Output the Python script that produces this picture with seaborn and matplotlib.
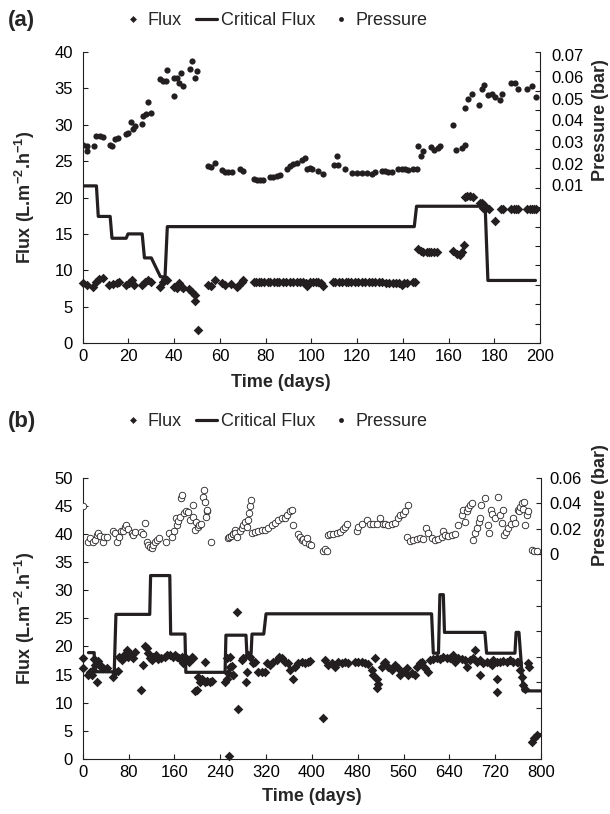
import matplotlib
matplotlib.use("Agg")
import matplotlib.pyplot as plt
from matplotlib.lines import Line2D
import seaborn as sns
import numpy as np
import pandas as pd

# ---- panel (a): 200 days ----
flux_a_day = [0, 1.8, 4.7, 5.8, 7.3, 8.7, 11.7, 13.1, 14.9, 16.0, 18.9, 20.4, 21.4, 22.4, 25.8, 27.2,
              28.7, 29.7, 33.8, 34.9, 36.0, 36.7, 40.1, 41.1, 42.3, 43.3, 44.0, 46.6, 47.7, 49.1, 49.3,
              50.6, 55.0, 56.1, 57.9, 60.8, 62.2, 64.7, 67.3, 68.5, 69.5, 70.3,
              74.9, 76.0, 77.0, 78.0, 79.5, 81.0, 82.0, 83.5, 85.0, 86.0, 87.5, 89.0, 90.5, 92.0, 93.5,
              95.0, 96.5, 97.5, 98.2, 99.5, 100.5, 102.0, 103.0, 104.2, 105.0,
              109.4, 110.5, 112.0, 113.5, 115.0, 116.0, 117.5, 119.0, 120.5, 122.0, 123.5, 125.0, 126.5,
              128.0, 129.5, 131.0, 132.5, 134.0, 135.5, 137.0, 138.5, 139.5, 140.5, 142.0, 144.5, 145.5,
              146.8, 148.0, 149.0, 150.5, 151.5, 152.5, 153.5, 155.0, 162.0, 163.5, 165.0, 166.0, 166.9,
              167.2, 168.2, 169.2, 170.5, 173.8, 174.6, 175.0, 175.5, 176.3, 177.5, 180.4, 183.0, 184.0,
              187.5, 188.5, 189.5, 190.5, 194.5, 195.5, 196.5, 197.5, 198.3]
flux_a = [8.2, 8.0, 7.7, 8.4, 8.8, 9.0, 8.0, 8.1, 8.3, 8.4, 8.0, 8.2, 8.7, 8.0, 8.0, 8.4,
          8.6, 8.4, 7.7, 8.4, 8.8, 8.7, 7.7, 7.5, 8.2, 7.7, 7.5, 7.4, 7.0, 6.6, 5.8,
          1.8, 8.0, 7.8, 8.6, 8.2, 8.0, 8.1, 7.7, 8.0, 8.4, 8.6,
          8.4, 8.4, 8.4, 8.4, 8.4, 8.4, 8.4, 8.4, 8.4, 8.4, 8.4, 8.4, 8.4, 8.4, 8.4,
          8.4, 8.4, 8.2, 7.9, 8.4, 8.4, 8.4, 8.4, 8.2, 7.8,
          8.4, 8.4, 8.4, 8.4, 8.4, 8.4, 8.4, 8.4, 8.4, 8.4, 8.4, 8.4, 8.4,
          8.4, 8.4, 8.4, 8.3, 8.3, 8.3, 8.3, 8.2, 8.0, 8.2, 8.3, 8.4, 8.4,
          12.9, 12.7, 12.5, 12.5, 12.5, 12.5, 12.5, 12.5, 12.6, 12.2, 12.1, 12.5, 13.5,
          20.1, 20.2, 20.2, 20.1, 19.3, 19.2, 18.6, 19.0, 18.5, 18.4, 16.8, 18.4, 18.4,
          18.4, 18.4, 18.4, 18.4, 18.4, 18.4, 18.4, 18.4, 18.4]

crit_a_day = [0, 6, 6.8, 12, 12.8, 19, 19.8, 26, 27, 30, 34, 36, 37, 145, 146, 176, 177.2, 198]
crit_a = [21.6, 21.6, 17.4, 17.4, 14.4, 14.4, 15.0, 15.0, 11.7, 11.7, 9.1, 9.1, 16.0, 16.0,
          18.8, 18.8, 8.6, 8.6]

pres_a_day = [0, 1.7, 2.0, 4.9, 5.8, 7.6, 8.7, 11.9, 13.0, 14.1, 15.6, 18.8, 20.0, 21.0, 21.9, 22.9,
              25.8, 26.5, 27.5, 28.7, 29.7, 33.8, 35.3, 36.3, 37.0, 40.0, 40.1, 41.4, 42.1, 42.8, 44.0,
              46.9, 47.9, 49.0, 50.0,
              55.0, 56.1, 57.9, 60.8, 62.2, 63.7, 65.1, 68.8, 70.3, 74.9, 76.1, 77.5, 79.0, 81.9, 83.4,
              84.8, 86.3, 89.2, 90.7, 92.1, 93.6, 95.7, 97.2, 97.9, 99.4, 100.1, 103.0, 105.2, 109.9,
              111.0, 111.8, 114.7, 117.6, 119.8, 122.0, 124.2, 126.4, 127.8, 130.7, 132.2, 133.7, 135.1,
              138.0, 139.5, 140.9, 142.4, 144.6, 146.0,
              146.8, 147.9, 148.9, 152.3, 153.7, 155.2, 156.2, 162.0, 163.1, 166.0, 167.2, 167.2, 168.4,
              170.2, 173.4, 174.6, 175.3, 177.2, 178.9, 180.4, 182.6, 183.3, 187.4, 189.2, 190.3, 194.3,
              196.5, 198.3]
pres_a = [0.0284, 0.0281, 0.0257, 0.0281, 0.0325, 0.0325, 0.0321, 0.0284, 0.0281, 0.0314, 0.0318,
          0.0338, 0.0341, 0.0392, 0.0358, 0.0371, 0.0382, 0.0418, 0.0429, 0.0482, 0.0432, 0.0590,
          0.0583, 0.0583, 0.0633, 0.0512, 0.0593, 0.0597, 0.0573, 0.0617, 0.0556, 0.0637, 0.0674,
          0.0597, 0.0627,
          0.0187, 0.0183, 0.0204, 0.0170, 0.0163, 0.0163, 0.0163, 0.0173, 0.0167, 0.0130, 0.0126,
          0.0126, 0.0123, 0.0136, 0.0140, 0.0141, 0.0147, 0.0177, 0.0187, 0.0197, 0.0204, 0.0217,
          0.0227, 0.0173, 0.0180, 0.0177, 0.0167, 0.0153, 0.0194, 0.0234, 0.0194, 0.0173, 0.0158,
          0.0157, 0.0157, 0.0157, 0.0153, 0.0160, 0.0167, 0.0167, 0.0163, 0.0163, 0.0173, 0.0173,
          0.0173, 0.0170, 0.0173, 0.0173,
          0.0281, 0.0237, 0.0257, 0.0277, 0.0261, 0.0271, 0.0281, 0.0378, 0.0264, 0.0274, 0.0284,
          0.0456, 0.0499, 0.0519, 0.0472, 0.0546, 0.0563, 0.0516, 0.0523, 0.0509, 0.0492, 0.0523,
          0.0573, 0.0573, 0.0543, 0.0543, 0.0556, 0.0509]
pres_a_labels = [0.01, 0.02, 0.03, 0.04, 0.05, 0.06, 0.07]

# ---- panel (b): 800 days ----
flux_b_day = [0, 0, 9.8, 12.7, 15.6, 18.6, 21.5, 24.4, 27.3, 30.2, 33.1, 36.0, 41.8, 24.4, 20, 26,
              52.3, 56.4, 62.1, 64.0, 68.1, 72.1, 76.8, 79.7, 83.7, 87.2, 91.3, 101.2, 104.7,
              108.7, 111.6, 114.6, 117.5, 120.4, 123.3, 128.0, 132.0, 136.0,
              143.7, 147.7, 152.4, 157.0, 161.1, 164.0, 168.7, 172.8, 175.7, 180.3, 186.1, 190.2, 193.1,
              196.0, 198.9, 201.8, 204.7, 207.7, 213.5, 216.4, 222.2, 225.1, 213.5,
              248.4, 251.3, 254.2, 257.1, 261.8, 251.3, 255.9, 257, 260, 262.9, 269.9, 271.6,
              277.5, 280.4, 285, 286.2, 289.1, 292, 296.7, 300.7, 306.6, 312.4, 318.2,
              321.1, 326.9, 332.7, 338.6, 343.2, 347.3, 353.1, 358.9, 361.8, 366.5, 370.6, 376.4, 382.2,
              388, 393.8, 396.7, 420,
              422.9, 428.7, 434.5, 440.4, 446.2, 452, 457.8, 463.6,
              475.3, 481.1, 486.9, 492.7, 498.5, 504.4, 510.2, 507.3, 513.1, 516, 513.1, 521.8, 525.9,
              527.7, 533.5, 539.3, 545.2, 551, 553.9, 559.7, 565.5, 568.4, 574.2, 580.1, 583, 588.8,
              592.9, 597.5, 603.3, 606.2,
              612, 617.9, 623.7, 629.5, 635.3, 641.2, 647, 649.9, 655.7, 661.5, 667.3, 670.2, 676.1,
              681.9, 684.8, 687.7, 693.5, 693.5, 699.3, 705.1, 711, 713.9, 716.8, 722.6, 722.6, 722.6,
              728.4, 734.2, 740.1, 745.9, 751.7, 757.5, 760.4, 763.3, 766.2, 769.2, 772.1, 776.7, 779,
              783.7, 788.3, 792.4]
flux_b = [18.0, 16.2, 14.9, 15.5, 15.0, 15.8, 16.7, 17.3, 17.0, 16.6, 16.4, 16.1, 16.1, 13.7, 17.8, 17.5,
          14.6, 15.5, 15.6, 18.2, 17.6, 18.5, 19.4, 18.2, 18.5, 17.9, 19.1, 12.3, 16.7,
          20.0, 19.7, 18.8, 17.9, 17.6, 18.2, 18.5, 17.8, 17.9,
          18.2, 18.5, 18.4, 18.2, 18.5, 18.2, 18.0, 18.2, 17.0, 17.9, 17.3, 18.2, 18.0,
          12.1, 12.3, 14.6, 13.7, 14.2, 13.7, 13.9, 13.7, 13.9, 17.2,
          13.7, 14.2, 15.2, 16.4, 14.9, 17.9, 0.6, 18.2, 16.6, 14.9, 26.1, 8.9,
          17.6, 17.9, 13.7, 15.5, 18.5, 18.2, 17.0, 17.3, 15.4, 15.4, 15.4,
          17.0, 16.7, 17.3, 17.6, 18.2, 17.9, 17.3, 17.0, 15.8, 14.2, 16.4, 17.0, 17.3,
          17.0, 17.3, 17.4, 7.2,
          17.6, 16.7, 17.0, 16.4, 17.3, 17.0, 17.3, 17.0,
          17.3, 17.3, 17.2, 17.0, 16.8, 15.8, 17.9, 14.9, 14.3, 13.4, 12.6, 16.4, 17.0,
          17.3, 16.4, 15.8, 16.7, 16.1, 14.9, 15.5, 16.1, 14.9, 15.2, 14.9, 16.4, 17.0,
          17.3, 16.1, 15.5, 17.6,
          17.8, 18.0, 17.8, 18.2, 17.9, 18.0, 18.5, 17.3, 17.9, 17.8, 17.6, 16.4, 17.6,
          17.9, 19.4, 17.3, 17.6, 14.9, 17.0, 17.3, 17.0, 16.7, 17.6, 17.3, 14.3, 11.9,
          17.3, 17.4, 17.3, 17.6, 17.3, 17.3, 17.2, 15.8, 14.6, 13.1, 12.4, 17.0, 16.4,
          3.1, 3.7, 4.3]

crit_b_day = [10, 20, 21, 55, 58, 117, 118.5, 152, 153.5, 178.5, 180, 248.5, 250, 285, 286.5, 294,
              295.5, 316, 320, 609, 612, 621, 623.5, 629.5, 631.5, 702, 705, 754.5, 756.5, 761.5, 769, 800]
crit_b = [18.9, 18.9, 15.5, 15.5, 25.7, 25.7, 32.6, 32.6, 22.2, 22.2, 15.4, 15.4, 22.0, 22.0, 18.8, 18.8,
          22.2, 22.2, 25.8, 25.8, 18.8, 18.8, 29.2, 29.2, 22.5, 22.5, 18.8, 18.8, 22.5, 22.5, 12.1, 12.1]

pres_b_day = [0, 9.8, 12.7, 18.6, 21.5, 24.4, 27.3, 30.2, 34.9, 37.2, 41.8,
              52.3, 56.4, 60.4, 64.0, 66.9, 70.9, 73.8, 75.6, 79.7, 85.5, 88.4, 91.3, 101.2, 105.8, 108.7,
              111.6, 114.6, 117.5, 120.4, 123.3, 126.2, 130.3, 133.2,
              145.4, 151.2, 155.3, 159.4, 162.9, 164.0, 166.4, 169.8, 172.2, 173.9, 176.8, 180.3, 183.8,
              187.3, 191.9, 193.1, 196.0, 198.3, 201.8, 203.6, 205.9, 210.0, 211.7, 213.5, 215.2, 216.4,
              217.5, 224.0, 253, 256, 259, 262, 265,
              261.8, 265.8, 269.9, 274.6, 277.5, 280.4, 283.3, 286.2, 289.1, 290.8, 292.0, 293.2,
              294.9, 300.7, 306.6, 312.4, 318.2, 324, 329.8, 335.6, 341.5, 347.3, 353.1, 357.2, 361.8,
              364.7, 367.6, 376.4, 379.3, 382.2, 385.1, 388, 390.9, 395.6, 398.5,
              418.8, 422.9, 425.8, 428.0, 431.6, 437.5, 443.3, 449.1, 454.9, 457.8, 460.7,
              478.2, 481.1, 486.9, 495.6, 501.5, 507.3, 513.1, 518.9, 524.7,
              527.7, 533.5, 539.3, 545.2, 551, 553.9, 559.7, 562.6, 567.3,
              565.5, 571.3, 577.2, 583, 588.8, 594.6, 598.7, 603.3, 609.2, 615, 620.8, 626.6, 629.5,
              632.4, 638.2, 644.1, 649.9, 655.7, 661.5, 664.4, 667.3, 670.2, 673.2, 676.1, 679,
              681.9, 684.8, 687.7, 691.8, 693.5, 695.3, 702.3, 706.9, 709.2, 712.7, 715, 719.7, 725.5,
              728.4, 731.3, 734.2, 736, 738.3, 743, 747.6, 751.7, 754.6, 759.3, 761.6, 763.3, 766.2,
              769.2, 770.9, 772.1, 775, 777.9, 783.7, 788.3, 792.4]
pres_b = [0.0380, 0.0098, 0.0125, 0.0098, 0.0112, 0.0151, 0.0164, 0.0142, 0.0098, 0.0138, 0.0138,
          0.0182, 0.0164, 0.0098, 0.0138, 0.0182, 0.0182, 0.0217, 0.0230, 0.0195, 0.0164, 0.0151,
          0.0178, 0.0178, 0.0156, 0.0244,
          0.0098, 0.0072, 0.0059, 0.0046, 0.0072, 0.0098, 0.0116, 0.0125,
          0.0098, 0.0164, 0.0138, 0.0182, 0.0283, 0.0230, 0.0261, 0.0296, 0.0437, 0.0468, 0.0323,
          0.0336, 0.0332, 0.0270, 0.0296, 0.0384, 0.0191, 0.0257, 0.0217, 0.0230, 0.0235, 0.0450,
          0.0503, 0.0411, 0.0296, 0.0336, 0.0349, 0.0094, 0.0125, 0.0138, 0.0147, 0.0156, 0.0191,
          0.0156, 0.0164, 0.0138, 0.0182, 0.0204, 0.0230, 0.0257, 0.0217, 0.0270, 0.0323, 0.0376,
          0.0424,
          0.0164, 0.0178, 0.0182, 0.0191, 0.0191, 0.0208, 0.0226, 0.0244, 0.0270, 0.0283, 0.0288,
          0.0310, 0.0340, 0.0349, 0.0226, 0.0156, 0.0138, 0.0112, 0.0120, 0.0098, 0.0125, 0.0085,
          0.0072,
          0.0024, 0.0041, 0.0028, 0.0151, 0.0156, 0.0156, 0.0164, 0.0178, 0.0200, 0.0217, 0.0235,
          0.0182, 0.0217, 0.0235, 0.0270, 0.0235, 0.0235, 0.0235, 0.0283, 0.0235,
          0.0235, 0.0230, 0.0235, 0.0244, 0.0283, 0.0310, 0.0314, 0.0336, 0.0384,
          0.0138, 0.0103, 0.0112, 0.0120, 0.0125, 0.0120, 0.0208, 0.0164, 0.0125, 0.0112, 0.0120,
          0.0138, 0.0182, 0.0151, 0.0147, 0.0151, 0.0156, 0.0230, 0.0310, 0.0349, 0.0257, 0.0336,
          0.0362, 0.0384, 0.0398,
          0.0112, 0.0164, 0.0204, 0.0257, 0.0283, 0.0384, 0.0442, 0.0230, 0.0164, 0.0349, 0.0314,
          0.0283, 0.0450, 0.0310, 0.0244, 0.0349, 0.0151, 0.0178, 0.0204, 0.0235, 0.0283, 0.0244,
          0.0349, 0.0336, 0.0371, 0.0398, 0.0358, 0.0406, 0.0230, 0.0310, 0.0336, 0.0032, 0.0028,
          0.0024]
pres_b_labels = [0, 0.02, 0.04, 0.06]

ink = "#231f20"

sns.set_style("ticks")
plt.rcParams["font.family"] = ["Liberation Sans", "DejaVu Sans"]
plt.rcParams["mathtext.fontset"] = "custom"
plt.rcParams["mathtext.rm"] = "Liberation Sans"
plt.rcParams["mathtext.bf"] = "Liberation Sans:bold"
plt.rcParams["axes.edgecolor"] = ink
plt.rcParams["axes.linewidth"] = 0.8

fig = plt.figure(figsize=(6.1, 8.14), dpi=100)
ax_a = fig.add_axes([0.1356, 0.5786, 0.7497, 0.3575])
ax_b = fig.add_axes([0.1356, 0.0676, 0.7513, 0.3456])


def draw_panel(ax, fday, fval, cday, cval, pday, pval, open_circles):
    sns.scatterplot(x=fday, y=fval, ax=ax, marker="D", s=24, color=ink,
                    edgecolor=ink, linewidth=0, zorder=3, clip_on=False)
    sns.lineplot(x=cday, y=cval, ax=ax, sort=False, estimator=None, color=ink,
                 lw=2.3, zorder=4)
    ax2 = ax.twinx()
    if open_circles:
        sns.scatterplot(x=pday, y=pval, ax=ax2, marker="o", s=22, facecolor="white",
                        edgecolor=ink, linewidth=0.6, zorder=3)
    else:
        sns.scatterplot(x=pday, y=pval, ax=ax2, marker="o", s=20, color=ink,
                        edgecolor=ink, linewidth=0, zorder=3)
    for a in (ax, ax2):
        a.spines["top"].set_visible(False)
        a.tick_params(direction="in", length=3.5, width=0.8, colors=ink, labelcolor="black",
                      labelsize=12)
    ax.spines["right"].set_visible(False)
    ax2.spines["left"].set_visible(False)
    ax2.spines["bottom"].set_visible(False)
    ax.tick_params(axis="y", pad=7)
    ax.tick_params(axis="x", pad=4)
    ax.set_xlabel("Time (days)", fontsize=13, fontweight="bold", labelpad=6)
    ax.set_ylabel("Flux (L.m$^{\\mathbf{-2}}$.h$^{\\mathbf{-1}}$)", fontsize=13,
                  fontweight="bold")
    ax.yaxis.set_label_coords(-0.1, 0.5)
    return ax2


# panel (a)
ax2a = draw_panel(ax_a, flux_a_day, flux_a, crit_a_day, crit_a, pres_a_day, pres_a, False)
ax_a.set_xlim(0, 200)
ax_a.set_xticks(np.arange(0, 201, 20))
ax_a.set_ylim(0, 40)
ax_a.set_yticks(np.arange(0, 41, 5))
ax_a.xaxis.set_label_coords(0.434, -0.105)
ax2a.set_ylim(-0.0629, 0.0715)
ax2a.set_yticks(pres_a_labels, [f"{v:.2f}" for v in pres_a_labels])
ax2a.set_yticks(np.linspace(-0.0629, 0.0715, 16), minor=True)
ax2a.tick_params(axis="y", which="major", length=0, pad=8)
ax2a.tick_params(axis="y", which="minor", direction="in", length=3.5, width=0.8, colors=ink)

# panel (b)
ax2b = draw_panel(ax_b, flux_b_day, flux_b, crit_b_day, crit_b, pres_b_day, pres_b, True)
ax_b.set_xlim(0, 800)
ax_b.set_xticks(np.arange(0, 801, 80))
ax_b.set_ylim(0, 50)
ax_b.set_yticks(np.arange(0, 51, 5))
ax2b.set_ylim(-0.16, 0.06)
rticks = np.round(np.arange(-0.16, 0.0601, 0.02), 2)
ax2b.set_yticks(rticks, [("0" if abs(v) < 1e-9 else f"{v:.2f}") if v > -1e-9 else ""
                         for v in rticks])
ax2b.tick_params(axis="y", pad=6)

# right-hand titles
fig.text(0.984, 0.853, "Pressure (bar)", rotation=90, ha="center", va="center",
         fontsize=13, fontweight="bold")
fig.text(0.984, 0.380, "Pressure (bar)", rotation=90, ha="center", va="center",
         fontsize=13, fontweight="bold")

# panel letters
fig.text(0.013, 0.975, "(a)", fontsize=16, fontweight="bold", va="center")
fig.text(0.013, 0.4816, "(b)", fontsize=16, fontweight="bold", va="center")

# legends
handles = [Line2D([], [], marker="D", ls="none", color=ink, ms=3.5, mew=0),
           Line2D([], [], color=ink, lw=2.3),
           Line2D([], [], marker="o", ls="none", color=ink, ms=3.5, mew=0)]
names = ["Flux", "Critical Flux", "Pressure"]
for ypos in (0.975, 0.4816):
    fig.legend(handles, names, loc="center", bbox_to_anchor=(0.45, ypos), ncol=3,
               frameon=False, fontsize=13, handlelength=1.2, handletextpad=0.2,
               columnspacing=0.8)

fig.savefig("out.png", dpi=100)
